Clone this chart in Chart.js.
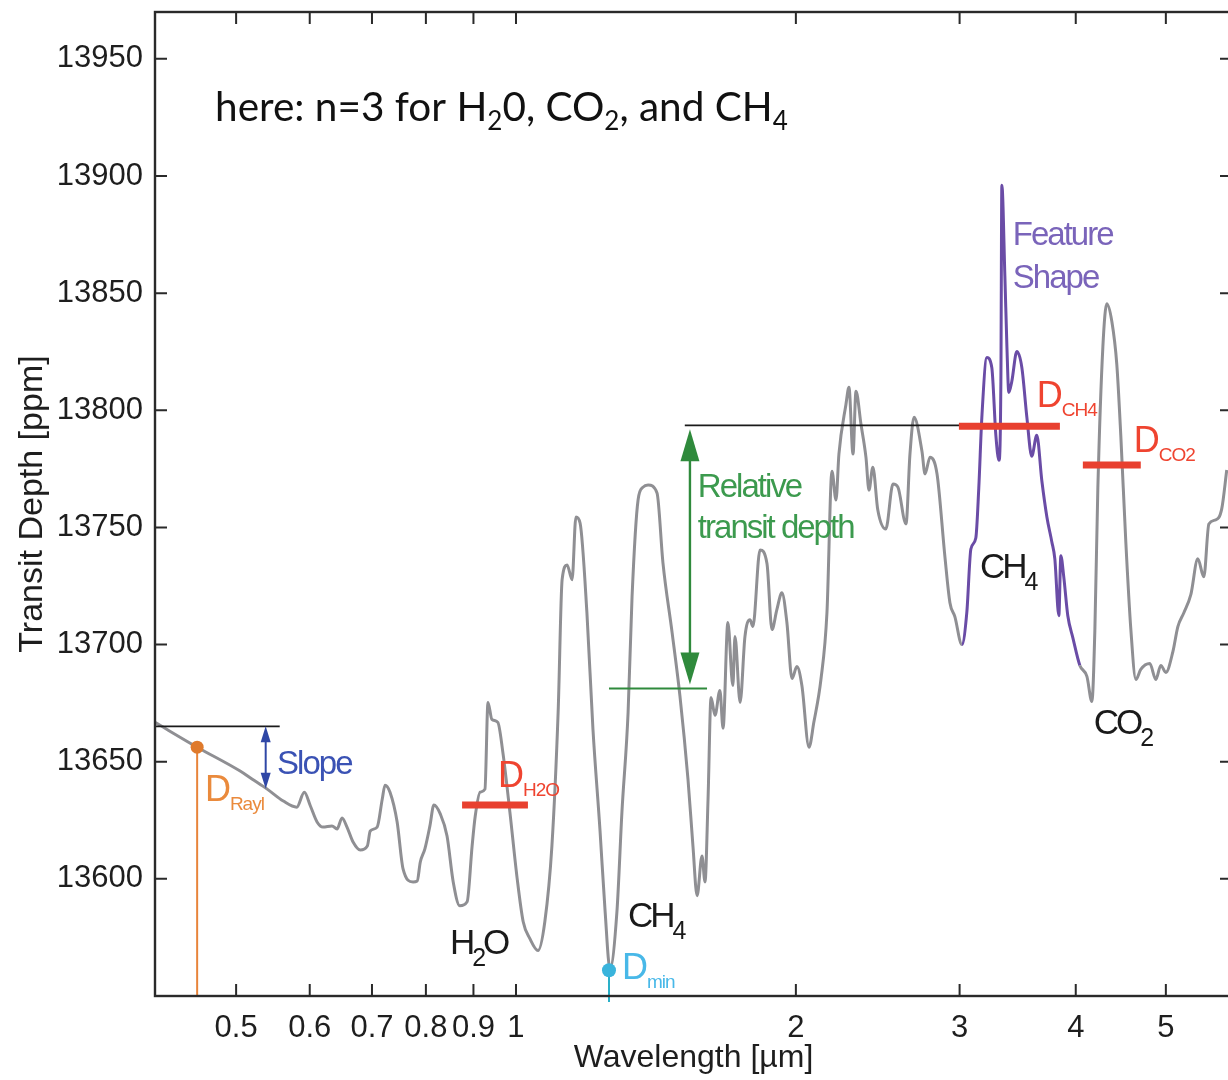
<!DOCTYPE html>
<html>
<head>
<meta charset="utf-8">
<script src="https://cdn.jsdelivr.net/npm/chart.js@4.4.0/dist/chart.umd.min.js"></script>
<style>
  html, body { margin: 0; padding: 0; background: #fff; overflow: hidden; }
  #wrap { position: relative; width: 1236px; height: 1080px; }
</style>
</head>
<body>
<div id="wrap"><canvas id="spectrum-chart" width="1236" height="1080"></canvas></div>
<script>
// model transmission spectrum, wavelength in micron
const wavelength = [
  0.409, 0.454, 0.505, 0.520, 0.540, 0.562, 0.581, 0.592, 0.601, 0.611,
  0.620, 0.634, 0.642, 0.650, 0.658, 0.668, 0.680, 0.692, 0.697, 0.709,
  0.718, 0.723, 0.732, 0.745, 0.756, 0.775, 0.783, 0.789, 0.798, 0.808,
  0.816, 0.829, 0.843, 0.856, 0.870, 0.886, 0.897, 0.904, 0.915, 0.926,
  0.933, 0.942, 0.956, 0.968, 0.985, 1.003, 1.018, 1.035, 1.056, 1.074,
  1.093, 1.110, 1.121, 1.135, 1.149, 1.160, 1.172, 1.192, 1.210, 1.231,
  1.247, 1.262, 1.284, 1.300, 1.320, 1.333, 1.353, 1.370, 1.387, 1.418,
  1.439, 1.472, 1.501, 1.531, 1.550, 1.566, 1.585, 1.597, 1.609, 1.621,
  1.637, 1.657, 1.670, 1.690, 1.711, 1.720, 1.742, 1.763, 1.785, 1.798,
  1.830, 1.862, 1.885, 1.908, 1.932, 1.956, 1.981, 2.005, 2.030, 2.066,
  2.091, 2.128, 2.160, 2.187, 2.209, 2.225, 2.264, 2.281, 2.304, 2.321,
  2.350, 2.379, 2.397, 2.420, 2.450, 2.499, 2.544, 2.575, 2.627, 2.653,
  2.680, 2.733, 2.754, 2.788, 2.837, 2.893, 2.929, 2.965, 3.017, 3.054,
  3.085, 3.123, 3.146, 3.170, 3.210, 3.249, 3.282, 3.307, 3.323, 3.331,
  3.356, 3.373, 3.389, 3.414, 3.457, 3.500, 3.544, 3.587, 3.632, 3.678,
  3.724, 3.770, 3.798, 3.836, 3.855, 3.883, 3.922, 3.971, 4.041, 4.112,
  4.163, 4.194, 4.225, 4.278, 4.320, 4.374, 4.428, 4.472, 4.528, 4.585,
  4.642, 4.699, 4.805, 4.878, 4.938, 5.000, 5.088, 5.151, 5.228, 5.319,
  5.412, 5.493, 5.562, 5.657, 5.742, 5.814
];

// transit depth in ppm
const transitDepth = [
  13666.8, 13656.2, 13646.0, 13642.6, 13638.3, 13633.2, 13630.6, 13637.0, 13631.1, 13624.3,
  13622.1, 13622.6, 13621.3, 13626.0, 13622.1, 13615.7, 13612.3, 13614.0, 13620.4, 13622.1,
  13634.0, 13640.0, 13637.0, 13624.3, 13604.3, 13598.7, 13599.1, 13607.2, 13612.8, 13622.6,
  13631.5, 13627.7, 13618.3, 13598.7, 13588.5, 13590.2, 13614.0, 13626.8, 13637.0, 13638.3,
  13675.3, 13668.1, 13666.8, 13654.0, 13628.5, 13600.0, 13581.7, 13574.5, 13569.4, 13581.7,
  13614.0, 13671.1, 13727.7, 13734.0, 13727.7, 13754.5, 13751.9, 13713.6, 13663.8, 13621.3,
  13586.0, 13561.7, 13586.0, 13628.5, 13671.1, 13720.4, 13761.7, 13767.2, 13768.1, 13764.7,
  13734.9, 13705.1, 13677.9, 13642.6, 13614.0, 13592.8, 13609.8, 13598.7, 13634.0, 13677.4,
  13669.8, 13680.4, 13664.3, 13709.4, 13682.5, 13703.4, 13675.3, 13703.4, 13710.6, 13707.7,
  13740.4, 13734.5, 13706.4, 13714.9, 13722.1, 13709.4, 13685.5, 13690.6, 13682.5, 13656.2,
  13666.8, 13685.1, 13713.6, 13774.0, 13761.7, 13781.3, 13802.5, 13809.8, 13781.3, 13808.1,
  13794.0, 13780.0, 13765.9, 13775.7, 13757.4, 13749.3, 13768.5, 13767.2, 13751.5, 13781.3,
  13797.0, 13782.5, 13772.8, 13780.0, 13772.8, 13737.4, 13717.9, 13711.9, 13700.0, 13713.6,
  13740.8, 13745.5, 13766.8, 13797.0, 13822.5, 13818.3, 13789.3, 13778.7, 13812.3, 13896.1,
  13857.4, 13827.2, 13807.6, 13812.3, 13825.1, 13818.3, 13797.0, 13780.4, 13789.3, 13769.8,
  13754.5, 13743.8, 13736.6, 13712.3, 13737.9, 13728.9, 13712.3, 13703.0, 13691.1, 13686.4,
  13675.7, 13706.4, 13766.8, 13827.2, 13845.5, 13837.9, 13819.6, 13789.3, 13743.8, 13706.4,
  13685.1, 13689.4, 13691.9, 13685.1, 13691.1, 13688.1, 13697.0, 13707.7, 13713.6, 13721.3,
  13736.6, 13728.9, 13751.5, 13753.2, 13757.9, 13774.5
];

const xTicks = [0.5, 0.6, 0.7, 0.8, 0.9, 1, 2, 3, 4, 5];
const yTicks = [13600, 13650, 13700, 13750, 13800, 13850, 13900, 13950];

// CH4 band that is shown as the feature shape
const featureRange = [3.0, 4.05];

// binned band depths: start / end wavelength and depth
const bandFrom = [0.875, 2.995, 4.071];
const bandTo = [1.030, 3.846, 4.699];
const bandDepth = [13631.5, 13793.2, 13776.6];

// [wavelength, depth]
const rayleighPoint = [0.454, 13656.2];
const minPoint = [1.259, 13561.0];

// slope: reference level and arrow
const slopeLine = [0.409, 0.557, 13665.1];   // from, to, depth
const slopeArrow = [0.538, 13665.1, 13638.5]; // at, top, bottom

// relative transit depth
const relBaseLine = [1.259, 1.605, 13681.3];
const relTopLine = [1.519, 3.0, 13793.6];
const relArrow = [1.5385, 13793.6, 13681.3];

const sansFont = '"Liberation Sans", Arial, Helvetica, sans-serif';

function drawLabel(ctx, parts, x, y, opt) {
    ctx.save();
    ctx.fillStyle = opt.color;
    ctx.textAlign = 'left';
    ctx.textBaseline = 'alphabetic';
    ctx.letterSpacing = (opt.spacing || 0) + 'px';
    let cx = x;
    parts.forEach(([text, sub]) => {
        let size = sub ? opt.subSize : opt.size;
        ctx.font = size + 'px ' + (opt.family || sansFont);
        ctx.fillText(text, cx, sub ? y + opt.subShift : y);
        cx += ctx.measureText(text).width;
    });
    ctx.restore();
}

function doubleArrow(ctx, x, yTop, yBottom, color, width, headW, headL) {
    ctx.save();
    ctx.strokeStyle = color;
    ctx.fillStyle = color;
    ctx.lineWidth = width;
    ctx.beginPath();
    ctx.moveTo(x, yTop + headL * 0.5);
    ctx.lineTo(x, yBottom - headL * 0.5);
    ctx.stroke();
    ctx.beginPath();
    ctx.moveTo(x, yTop);
    ctx.lineTo(x - headW / 2, yTop + headL);
    ctx.lineTo(x + headW / 2, yTop + headL);
    ctx.closePath();
    ctx.fill();
    ctx.beginPath();
    ctx.moveTo(x, yBottom);
    ctx.lineTo(x - headW / 2, yBottom - headL);
    ctx.lineTo(x + headW / 2, yBottom - headL);
    ctx.closePath();
    ctx.fill();
    ctx.restore();
}

function hLine(ctx, x1, x2, y, color, width) {
    ctx.save();
    ctx.strokeStyle = color;
    ctx.lineWidth = width;
    ctx.beginPath();
    ctx.moveTo(x1, y);
    ctx.lineTo(x2, y);
    ctx.stroke();
    ctx.restore();
}

function dot(ctx, x, y, r, color) {
    ctx.save();
    ctx.fillStyle = color;
    ctx.beginPath();
    ctx.arc(x, y, r, 0, Math.PI * 2);
    ctx.fill();
    ctx.restore();
}

const annotations = {
    id: 'annotations',
    afterDatasetsDraw(chart) {
        let ctx = chart.ctx;
        let area = chart.chartArea;
        let xs = chart.scales.x;
        let ys = chart.scales.y;
        let px = v => xs.getPixelForValue(v);
        let py = v => ys.getPixelForValue(v);

        // reference levels
        hLine(ctx, px(slopeLine[0]), px(slopeLine[1]), py(slopeLine[2]), '#1a1a1a', 1.8);
        hLine(ctx, px(relTopLine[0]), px(relTopLine[1]), py(relTopLine[2]), '#1a1a1a', 1.8);
        hLine(ctx, px(relBaseLine[0]), px(relBaseLine[1]), py(relBaseLine[2]), '#2f8a3c', 2);

        doubleArrow(ctx, px(slopeArrow[0]), py(slopeArrow[1]), py(slopeArrow[2]), '#2f47a6', 2, 10, 16);
        doubleArrow(ctx, px(relArrow[0]), py(relArrow[1]) + 4, py(relArrow[2]) - 4, '#2f8a3c', 2.4, 19, 32);

        // Rayleigh point and minimum point
        ctx.save();
        ctx.strokeStyle = '#e8843a';
        ctx.lineWidth = 2;
        ctx.beginPath();
        ctx.moveTo(px(rayleighPoint[0]), py(rayleighPoint[1]));
        ctx.lineTo(px(rayleighPoint[0]), area.bottom);
        ctx.stroke();
        ctx.strokeStyle = '#2ab0c8';
        ctx.beginPath();
        ctx.moveTo(px(minPoint[0]), py(minPoint[1]));
        ctx.lineTo(px(minPoint[0]), area.bottom + 6);
        ctx.stroke();
        ctx.restore();
        dot(ctx, px(rayleighPoint[0]), py(rayleighPoint[1]), 6.5, '#df7a2c');
        dot(ctx, px(minPoint[0]), py(minPoint[1]), 7, '#3ab4dc');

        // band depths
        ctx.save();
        ctx.strokeStyle = '#e8402f';
        ctx.lineWidth = 7;
        bandDepth.forEach((d, i) => {
            ctx.beginPath();
            ctx.moveTo(px(bandFrom[i]), py(d));
            ctx.lineTo(px(bandTo[i]), py(d));
            ctx.stroke();
        });
        ctx.restore();

        // text
        let dOpt = c => ({ color: c, size: 36, subSize: 19, subShift: 9, spacing: -1 });
        let chemOpt = { color: '#1a1a1a', size: 35, subSize: 25, subShift: 12, spacing: -3 };
        let noteOpt = c => ({ color: c, size: 33, spacing: -2 });

        drawLabel(ctx, [['here: n=3 for H'], ['2', 1], ['0, CO'], ['2', 1], [', and CH'], ['4', 1]],
            px(0.4746), py(13923.4),
            { color: '#111', size: 40.5, subSize: 26, subShift: 9, family: 'Lato, "Open Sans", sans-serif' });

        drawLabel(ctx, [['Slope']], px(0.5534), py(13644.7), noteOpt('#3a52b4'));
        drawLabel(ctx, [['D'], ['Rayl', 1]], px(0.4628), py(13633.2), dOpt('#ea8a3c'));
        drawLabel(ctx, [['D'], ['H2O', 1]], px(0.9564), py(13639.1), dOpt('#ef4430'));
        drawLabel(ctx, [['D'], ['min', 1]], px(1.300), py(13557.4), dOpt('#48b8e8'));
        drawLabel(ctx, [['D'], ['CH4', 1]], px(3.632), py(13801.3), dOpt('#ef4430'));
        drawLabel(ctx, [['D'], ['CO2', 1]], px(4.619), py(13782.1), dOpt('#ef4430'));

        drawLabel(ctx, [['H'], ['2', 1], ['O']], px(0.849), py(13568.1), chemOpt);
        drawLabel(ctx, [['CH'], ['4', 1]], px(1.3197), py(13579.6), chemOpt);
        drawLabel(ctx, [['CH'], ['4', 1]], px(3.155), py(13728.5), chemOpt);
        drawLabel(ctx, [['CO'], ['2', 1]], px(4.183), py(13661.7), chemOpt);

        drawLabel(ctx, [['Relative']], px(1.569), py(13763.0), noteOpt('#3c9a4e'));
        drawLabel(ctx, [['transit depth']], px(1.569), py(13745.5), noteOpt('#3c9a4e'));
        drawLabel(ctx, [['Feature']], px(3.4228), py(13870.6), noteOpt('#7a64ba'));
        drawLabel(ctx, [['Shape']], px(3.4228), py(13852.3), noteOpt('#7a64ba'));

        // frame with inward ticks
        ctx.save();
        ctx.strokeStyle = '#2a2a2a';
        ctx.lineWidth = 2.4;
        ctx.strokeRect(area.left, area.top, area.right - area.left, area.bottom - area.top);
        ctx.lineWidth = 2;
        ctx.beginPath();
        xTicks.forEach(v => {
            let x = px(v);
            ctx.moveTo(x, area.bottom);
            ctx.lineTo(x, area.bottom - 12);
            ctx.moveTo(x, area.top);
            ctx.lineTo(x, area.top + 12);
        });
        yTicks.forEach(v => {
            let y = py(v);
            ctx.moveTo(area.left, y);
            ctx.lineTo(area.left + 12, y);
            ctx.moveTo(area.right, y);
            ctx.lineTo(area.right - 12, y);
        });
        ctx.stroke();
        ctx.restore();
    }
};

function inFeature(c) {
    return c.p0.parsed.x >= featureRange[0] && c.p1.parsed.x <= featureRange[1];
}

new Chart(document.getElementById('spectrum-chart'), {
    type: 'line',
    data: {
        datasets: [{
            data: wavelength.map((w, i) => ({ x: w, y: transitDepth[i] })),
            borderColor: '#8f8f93',
            borderWidth: 3,
            pointRadius: 0,
            cubicInterpolationMode: 'monotone',
            segment: {
                borderColor: c => inFeature(c) ? '#6a4ca6' : undefined
            }
        }]
    },
    options: {
        responsive: false,
        animation: false,
        layout: { padding: { top: 12, right: 4, left: 0, bottom: 0 } },
        plugins: {
            legend: { display: false },
            tooltip: { enabled: false }
        },
        scales: {
            x: {
                type: 'logarithmic',
                min: 0.409,
                max: 5.89,
                afterBuildTicks: s => { s.ticks = xTicks.map(v => ({ value: v })); },
                afterFit: s => { s.height = 84; s.paddingLeft = 0; s.paddingRight = 0; },
                grid: { display: false, drawTicks: false },
                border: { display: false },
                ticks: {
                    autoSkip: false,
                    maxRotation: 0,
                    padding: 14,
                    color: '#1e1e1e',
                    font: { family: sansFont, size: 31 },
                    callback: v => String(v)
                },
                title: {
                    display: true,
                    text: 'Wavelength [µm]',
                    color: '#1e1e1e',
                    font: { family: sansFont, size: 32 },
                    padding: { top: 0, bottom: 3 }
                }
            },
            y: {
                min: 13550,
                max: 13970,
                afterBuildTicks: s => { s.ticks = yTicks.map(v => ({ value: v })); },
                afterFit: s => { s.width = 155; s.paddingTop = 0; s.paddingBottom = 0; },
                grid: { display: false, drawTicks: false },
                border: { display: false },
                ticks: {
                    padding: 12,
                    color: '#1e1e1e',
                    font: { family: sansFont, size: 31 },
                    callback: v => String(v)
                },
                title: {
                    display: true,
                    text: 'Transit Depth [ppm]',
                    color: '#1e1e1e',
                    font: { family: sansFont, size: 34 },
                    padding: { top: 12, bottom: 0 }
                }
            }
        }
    },
    plugins: [annotations]
});
</script>
</body>
</html>
